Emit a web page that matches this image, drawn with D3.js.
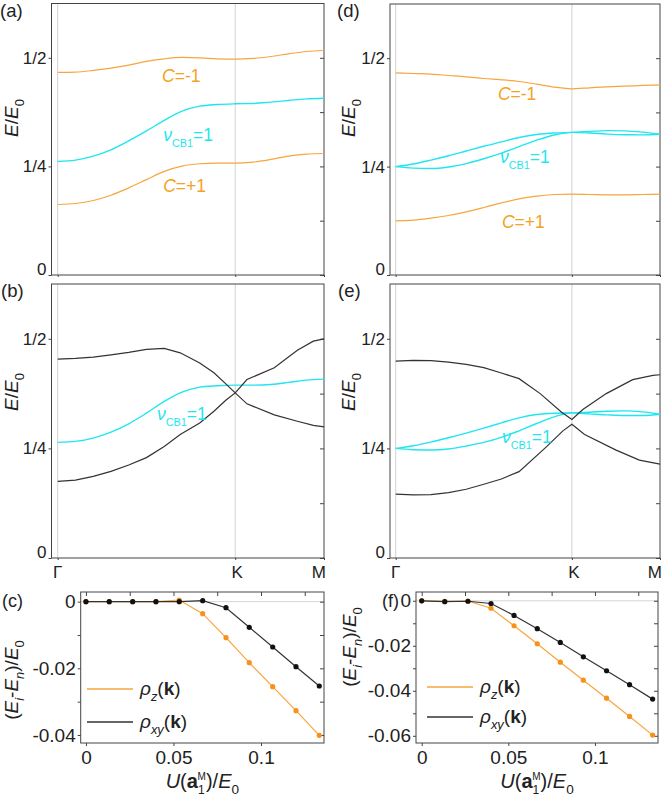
<!DOCTYPE html>
<html>
<head>
<meta charset="utf-8">
<script src="https://cdn.jsdelivr.net/npm/d3@7"></script>
<style>
  body { margin: 0; background: #fff; }
  svg text { font-family: "Liberation Sans", Arial, sans-serif; }
</style>
</head>
<body>
<svg id="chart" width="666" height="797"></svg>
<script>
// ---- data ----
// k path coordinate: Gamma = 0, K = 1, M = 1.5
const kGrid = [0, 0.1, 0.2, 0.3, 0.4, 0.5, 0.6, 0.7, 0.8, 0.9, 1.0, 1.1, 1.2, 1.3, 1.4, 1.5];

// panel (a)
const aUpper = [0.4665, 0.4672, 0.4710, 0.4764, 0.4832, 0.4916, 0.4977, 0.5008, 0.5000, 0.4977, 0.4970, 0.4985, 0.5030, 0.5091, 0.5145, 0.5168];
const aCyan  = [0.2614, 0.2645, 0.2736, 0.2881, 0.3087, 0.3316, 0.3559, 0.3773, 0.3887, 0.3925, 0.3941, 0.3948, 0.3979, 0.4017, 0.4055, 0.4070];
const aLower = [0.1623, 0.1646, 0.1715, 0.1837, 0.2005, 0.2195, 0.2386, 0.2508, 0.2561, 0.2576, 0.2576, 0.2599, 0.2660, 0.2736, 0.2782, 0.2797];

// panel (b)
const bCyan   = [0.2637, 0.2660, 0.2736, 0.2872, 0.3062, 0.3305, 0.3571, 0.3784, 0.3898, 0.3929, 0.3944, 0.3944, 0.3959, 0.4005, 0.4058, 0.4081];
const bBlackK = [0, 0.1, 0.2, 0.3, 0.4, 0.5, 0.6, 0.69, 0.8, 0.88, 0.95, 1.0, 1.066, 1.22, 1.35, 1.44, 1.5];
const bBlack1 = [0.4536, 0.4552, 0.4582, 0.4635, 0.4690, 0.4760, 0.4780, 0.4680, 0.4450, 0.4224, 0.3960, 0.3767, 0.3516, 0.3265, 0.3120, 0.3027, 0.2990];
const bBlack2 = [0.1748, 0.1778, 0.1862, 0.1976, 0.2120, 0.2290, 0.2546, 0.2815, 0.3080, 0.3347, 0.3610, 0.3767, 0.4070, 0.4340, 0.4740, 0.4946, 0.5000];

// panel (d)
const dUpper = [0.4663, 0.4647, 0.4632, 0.4601, 0.4571, 0.4532, 0.4502, 0.4463, 0.4402, 0.4333, 0.4294, 0.4317, 0.4340, 0.4356, 0.4371, 0.4387];
const dCyan1 = [0.2500, 0.2560, 0.2650, 0.2750, 0.2860, 0.2970, 0.3070, 0.3170, 0.3240, 0.3275, 0.3290, 0.3310, 0.3330, 0.3325, 0.3295, 0.3245];
const dCyan2 = [0.2500, 0.2465, 0.2455, 0.2490, 0.2570, 0.2680, 0.2810, 0.2960, 0.3110, 0.3230, 0.3290, 0.3275, 0.3250, 0.3235, 0.3232, 0.3245];
const dLower = [0.1250, 0.1265, 0.1311, 0.1373, 0.1457, 0.1557, 0.1664, 0.1756, 0.1817, 0.1856, 0.1863, 0.1856, 0.1848, 0.1848, 0.1856, 0.1863];

// panel (e)
const eCyan1  = [0.2500, 0.2561, 0.2644, 0.2742, 0.2848, 0.2962, 0.3083, 0.3197, 0.3273, 0.3303, 0.3311, 0.3326, 0.3348, 0.3356, 0.3333, 0.3280];
const eCyan2  = [0.2500, 0.2470, 0.2462, 0.2485, 0.2553, 0.2636, 0.2750, 0.2902, 0.3068, 0.3220, 0.3311, 0.3288, 0.3265, 0.3250, 0.3250, 0.3280];
const eUpperK = [0, 0.1, 0.2, 0.3, 0.4, 0.5, 0.6, 0.7, 0.82, 0.94, 1.0, 1.062, 1.195, 1.345, 1.46, 1.5];
const eUpper  = [0.4492, 0.4508, 0.4500, 0.4470, 0.4417, 0.4341, 0.4220, 0.4091, 0.3750, 0.3330, 0.3160, 0.3386, 0.3750, 0.4068, 0.4166, 0.4180];
const eLowerK = [0, 0.1, 0.2, 0.3, 0.4, 0.5, 0.6, 0.7, 0.855, 0.949, 1.0, 1.072, 1.251, 1.383, 1.5];
const eLower  = [0.1455, 0.1439, 0.1447, 0.1492, 0.1568, 0.1682, 0.1803, 0.1970, 0.2536, 0.2900, 0.3050, 0.2818, 0.2460, 0.2234, 0.2143];

// panels (c) and (f)
const uVals  = [0, 0.0133, 0.0267, 0.04, 0.0533, 0.0667, 0.08, 0.0933, 0.1067, 0.12, 0.1333];
const cRhoZ  = [0, 0, 0, 0, 0.0005, -0.0036, -0.0108, -0.0183, -0.0255, -0.0327, -0.0401];
const cRhoXY = [0, 0, 0, 0, 0, 0.0003, -0.0018, -0.0077, -0.0136, -0.0195, -0.0253];
const fRhoZ  = [0, -0.0002, -0.0001, -0.0033, -0.0111, -0.0191, -0.0273, -0.0353, -0.0433, -0.0514, -0.0597];
const fRhoXY = [0, -0.0004, -0.0002, -0.0012, -0.0065, -0.0124, -0.0185, -0.0249, -0.0311, -0.0373, -0.0437];

const kTicks = ["Γ", "K", "M"];
const eTickLabels = ["0", "1/4", "1/2"];

// ---- drawing ----
const svg = d3.select("#chart");
const ORANGE = "#f7a53f";
const ORANGE_DOT = "#f7911c";
const CYAN = "#1fe6f0";
const BLACK = "#333";
const AXIS = "#444";

// text with italic / sub / sup pieces
function rich(sel, parts, fs) {
  let cur = 0;
  parts.forEach(p => {
    const shift = p.sub ? fs * 0.32 : p.sup ? -fs * 0.42 : 0;
    const ts = sel.append("tspan").text(p.t).attr("dy", shift - cur);
    cur = shift;
    if (p.sub || p.sup) ts.attr("font-size", fs * (p.small || 0.68));
    if (p.i) ts.attr("font-style", "italic");
    if (p.b) ts.attr("font-weight", "bold");
    if (p.dx) ts.attr("dx", p.dx);
  });
  return sel;
}

function styleAxis(g, fs) {
  g.select("path.domain").remove();
  g.attr("font-family", null).attr("font-size", fs);
  g.selectAll(".tick line").attr("stroke", AXIS);
  g.selectAll(".tick text").attr("fill", "#222");
}

function bandPanel(p) {
  const x = d3.scaleLinear().domain([0, 1.5]).range([p.gx, p.x1]);
  const y = d3.scaleLinear().domain([0, 0.625]).range([p.y1, p.y0]);
  const g = svg.append("g");

  g.selectAll(".kline").data([0, 1]).enter().append("line")
    .attr("x1", d => x(d)).attr("x2", d => x(d))
    .attr("y1", p.y0).attr("y2", p.y1)
    .attr("stroke", "#d2d2d2").attr("stroke-width", 1);

  const left = g.append("g").attr("transform", `translate(${p.x0},0)`)
    .call(d3.axisLeft(y).tickValues([0, 0.25, 0.5]).tickSize(3).tickPadding(2)
      .tickFormat((d, i) => eTickLabels[i]));
  styleAxis(left, 17);
  left.selectAll(".tick text").filter(d => d === 0).attr("dy", "-0.05em");

  const right = g.append("g").attr("transform", `translate(${p.x1},0)`)
    .call(d3.axisRight(y).tickValues([0, 0.125, 0.25, 0.375, 0.5]).tickSize(-4).tickFormat(""));
  styleAxis(right, 17);

  const bottom = g.append("g").attr("transform", `translate(0,${p.y1})`)
    .call(d3.axisBottom(x).tickValues([0, 1, 1.5]).tickSize(2).tickFormat(""));
  styleAxis(bottom, 17);

  g.append("rect").attr("x", p.x0).attr("y", p.y0)
    .attr("width", p.x1 - p.x0).attr("height", p.y1 - p.y0)
    .attr("fill", "none").attr("stroke", AXIS).attr("stroke-width", 1);

  p.series.forEach(s => {
    const pts = d3.zip(s.k || kGrid, s.v);
    g.append("path").datum(pts)
      .attr("fill", "none").attr("stroke", s.color).attr("stroke-width", s.w || 1.2)
      .attr("d", d3.line().x(d => x(d[0])).y(d => y(d[1]))
        .curve(s.linear ? d3.curveLinear : d3.curveMonotoneX));
  });

  // panel letter
  g.append("text").attr("x", p.lx).attr("y", p.ly).attr("font-size", 18.5).attr("fill", "#222").text(p.letter);

  // y label
  const yl = g.append("text").attr("font-size", 19).attr("fill", "#222")
    .attr("transform", `translate(${p.ylx},${p.yly}) rotate(-90)`).attr("text-anchor", "middle");
  rich(yl, [{ t: "E", i: true }, { t: "/" }, { t: "E", i: true }, { t: "0", sub: true }], 19);

  // band annotations
  p.notes.forEach(n => {
    const t = g.append("text").attr("x", x(n.k)).attr("y", y(n.e))
      .attr("font-size", 17.5).attr("fill", n.color);
    if (n.kind === "nu") {
      rich(t, [{ t: "ν", i: true }, { t: "CB1", sub: true, small: 0.62 }, { t: "=1" }], 17.5);
    } else {
      rich(t, [{ t: "C", i: true }, { t: n.text }], 17.5);
    }
  });

  if (p.kLabels) {
    g.selectAll(".klab").data([0, 1, 1.5]).enter().append("text")
      .attr("x", (d, i) => i === 2 ? p.x1 + 2 : x(d) + (i === 1 ? 2 : 0))
      .attr("y", p.y1 + 20)
      .attr("text-anchor", (d, i) => i === 2 ? "end" : "middle")
      .attr("font-size", 17).attr("fill", "#222")
      .text((d, i) => kTicks[i]);
  }
}

function rhoPanel(p) {
  const x = d3.scaleLinear().domain(p.xd).range([p.x0, p.x1]);
  const y = d3.scaleLinear().domain(p.yd).range([p.y1, p.y0]);
  const g = svg.append("g");

  g.append("line").attr("x1", p.x0).attr("x2", p.x1)
    .attr("y1", y(0)).attr("y2", y(0)).attr("stroke", "#d6d6d6");

  const fmt = d => d === 0 ? "0" : (Math.round(d * 100) % 2 === 0 ? d3.format(".2f")(d) : "");
  const left = g.append("g").attr("transform", `translate(${p.x0},0)`)
    .call(d3.axisLeft(y).tickValues(p.yTicks).tickSize(3).tickPadding(2).tickFormat(fmt));
  styleAxis(left, 19);
  left.selectAll(".tick text").text(function () { return this.textContent.replace("−", "-"); });

  const right = g.append("g").attr("transform", `translate(${p.x1},0)`)
    .call(d3.axisRight(y).tickValues(p.yTicks).tickSize(-4).tickFormat(""));
  styleAxis(right, 19);

  const top = g.append("g").attr("transform", `translate(0,${p.y0})`)
    .call(d3.axisTop(x).tickValues([0, 0.025, 0.05, 0.075, 0.1, 0.125]).tickSize(-4).tickFormat(""));
  styleAxis(top, 19);

  const bottom = g.append("g").attr("transform", `translate(0,${p.y1})`)
    .call(d3.axisBottom(x).tickValues([0, 0.05, 0.1]).tickSize(3).tickPadding(5)
      .tickFormat(d => d === 0 ? "0" : String(d)));
  styleAxis(bottom, 19);

  g.append("rect").attr("x", p.x0).attr("y", p.y0)
    .attr("width", p.x1 - p.x0).attr("height", p.y1 - p.y0)
    .attr("fill", "none").attr("stroke", AXIS).attr("stroke-width", 1);

  const line = d3.line().x(d => x(d[0])).y(d => y(d[1]));
  [{ v: p.rhoZ, c: ORANGE, dot: ORANGE_DOT }, { v: p.rhoXY, c: BLACK, dot: "#111" }].forEach(s => {
    const pts = d3.zip(uVals, s.v);
    g.append("path").datum(pts).attr("fill", "none").attr("stroke", s.c)
      .attr("stroke-width", 1.2).attr("d", line);
    g.selectAll(null).data(pts).enter().append("circle")
      .attr("cx", d => x(d[0])).attr("cy", d => y(d[1])).attr("r", 2.6).attr("fill", s.dot);
  });

  // legend
  const leg = [
    { c: ORANGE, parts: [{ t: "ρ", i: true }, { t: "z", i: true, sub: true }, { t: "(" }, { t: "k", b: true }, { t: ")" }] },
    { c: BLACK, parts: [{ t: "ρ", i: true }, { t: "xy", i: true, sub: true }, { t: "(" }, { t: "k", b: true }, { t: ")" }] }
  ];
  leg.forEach((l, i) => {
    const ly = p.legY + i * p.legGap;
    g.append("line").attr("x1", p.legX).attr("x2", p.legX + 46)
      .attr("y1", ly).attr("y2", ly).attr("stroke", l.c).attr("stroke-width", 1.3);
    const t = g.append("text").attr("x", p.legX + 53).attr("y", ly + 6)
      .attr("font-size", 19).attr("fill", "#222");
    rich(t, l.parts, 19);
  });

  g.append("text").attr("x", p.lx).attr("y", p.ly).attr("font-size", 18).attr("fill", "#222").text(p.letter);

  const yl = g.append("text").attr("font-size", 19).attr("fill", "#222")
    .attr("transform", `translate(${p.ylx},${p.yly}) rotate(-90)`).attr("text-anchor", "middle");
  rich(yl, [{ t: "(" }, { t: "E", i: true }, { t: "i", i: true, sub: true }, { t: "-" },
    { t: "E", i: true }, { t: "n", i: true, sub: true }, { t: ")/" }, { t: "E", i: true }, { t: "0", sub: true }], 19);

  const xl = g.append("text").attr("font-size", 20).attr("fill", "#222")
    .attr("x", (p.x0 + p.x1) / 2).attr("y", 788).attr("text-anchor", "middle");
  rich(xl, [{ t: "U", i: true }, { t: "(" }, { t: "a", b: true }, { t: "1", sub: true, small: 0.6 },
    { t: "M", sup: true, small: 0.5, dx: -7 }, { t: ")/" }, { t: "E", i: true }, { t: "0", sub: true }], 20);
}

bandPanel({
  x0: 51.5, x1: 324, gx: 57.7, y0: 3.5, y1: 275, letter: "(a)", lx: 0, ly: 17, ylx: 18, yly: 118,
  series: [
    { v: aUpper, color: ORANGE }, { v: aCyan, color: CYAN, w: 1.4 }, { v: aLower, color: ORANGE }
  ],
  notes: [
    { kind: "C", text: "=-1", k: 0.588, e: 0.444, color: "#f5a21e" },
    { kind: "nu", k: 0.594, e: 0.3085, color: CYAN },
    { kind: "C", text: "=+1", k: 0.594, e: 0.191, color: "#f5a21e" }
  ]
});

bandPanel({
  x0: 51.5, x1: 324, gx: 57.7, y0: 284, y1: 558, letter: "(b)", lx: 1, ly: 297, ylx: 18, yly: 392,
  kLabels: true,
  series: [
    { v: bCyan, color: CYAN, w: 1.4 },
    { k: bBlackK, v: bBlack1, color: BLACK, linear: true },
    { k: bBlackK, v: bBlack2, color: BLACK, linear: true }
  ],
  notes: [{ kind: "nu", k: 0.559, e: 0.315, color: CYAN }]
});

bandPanel({
  x0: 390, x1: 660, gx: 395.7, y0: 4, y1: 275, letter: "(d)", lx: 337, ly: 17, ylx: 355, yly: 118,
  series: [
    { v: dUpper, color: ORANGE }, { v: dCyan1, color: CYAN, w: 1.4 }, { v: dCyan2, color: CYAN, w: 1.4 },
    { v: dLower, color: ORANGE }
  ],
  notes: [
    { kind: "C", text: "=-1", k: 0.58, e: 0.4036, color: "#f5a21e" },
    { kind: "nu", k: 0.592, e: 0.2583, color: CYAN },
    { kind: "C", text: "=+1", k: 0.603, e: 0.1084, color: "#f5a21e" }
  ]
});

bandPanel({
  x0: 390, x1: 660, gx: 395.7, y0: 284, y1: 558, letter: "(e)", lx: 338, ly: 297, ylx: 355, yly: 392,
  kLabels: true,
  series: [
    { v: eCyan1, color: CYAN, w: 1.4 }, { v: eCyan2, color: CYAN, w: 1.4 },
    { k: eUpperK, v: eUpper, color: BLACK, linear: true },
    { k: eLowerK, v: eLower, color: BLACK, linear: true }
  ],
  notes: [{ kind: "nu", k: 0.603, e: 0.262, color: CYAN }]
});

rhoPanel({
  x0: 80.7, x1: 324, y0: 592, y1: 743, xd: [-0.003, 0.136], yd: [-0.0424, 0.0029],
  yTicks: [0, -0.01, -0.02, -0.03, -0.04], rhoZ: cRhoZ, rhoXY: cRhoXY,
  legX: 87, legY: 689, legGap: 33, letter: "(c)", lx: 2, ly: 607, ylx: 18, yly: 680
});

rhoPanel({
  x0: 416, x1: 658, y0: 592, y1: 743, xd: [-0.0033, 0.1364], yd: [-0.0632, 0.0039],
  yTicks: [0, -0.01, -0.02, -0.03, -0.04, -0.05, -0.06], rhoZ: fRhoZ, rhoXY: fRhoXY,
  legX: 427, legY: 687, legGap: 30, letter: "(f)", lx: 382, ly: 607, ylx: 356, yly: 647
});
</script>
</body>
</html>
